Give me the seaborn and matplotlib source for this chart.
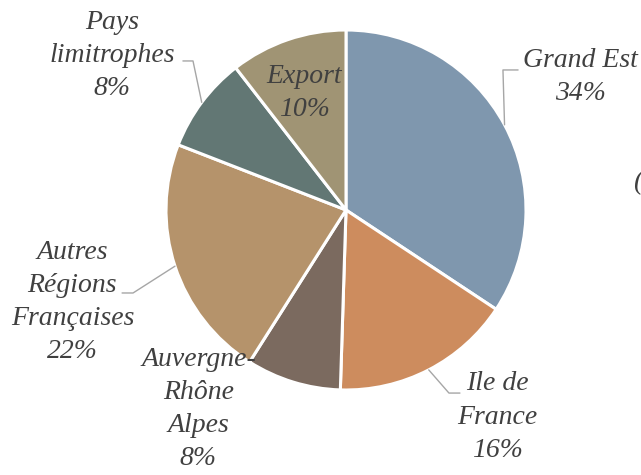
"""
Répartition géographique - camembert
"""

import numpy as np
import matplotlib.pyplot as plt
import seaborn as sns

sns.set_theme(style="white")
plt.rcParams["font.family"] = ["Liberation Serif", "DejaVu Serif"]

# -- Data --------------------------------------------------------------------
regions = ["Grand Est", "Ile de\nFrance", "Auvergne-\nRhône\nAlpes",
           "Autres\nRégions\nFrançaises", "Pays\nlimitrophes", "Export"]
shares = [34.3, 16.2, 8.5, 21.9, 8.6, 10.5]
pct_labels = ["34%", "16%", "8%", "22%", "8%", "10%"]

COLORS = ["#7f97ae", "#cd8c5e", "#7b6a5f", "#b5936b", "#627774", "#a09474"]
TEXT_COLOR = "#404040"
LINE_COLOR = "#a6a6a6"

# label centres (pie radius units) and leader line elbows
LABEL_POS = [(1.30, 0.74), (0.84, -1.15), (-0.82, -1.105),
             (-1.52, -0.51), (-1.30, 0.86), (-0.23, 0.65)]
LEADERS = {
    0: [(0.872, 0.778), (0.956, 0.778)],
    1: [(0.572, -1.017), (0.633, -1.017)],
    3: [(-1.183, -0.461), (-1.244, -0.461)],
    4: [(-0.85, 0.828), (-0.906, 0.828)],
}

fig = plt.figure(figsize=(6.41, 4.75), dpi=100)
ax = fig.add_axes([166 / 641, 1 - 390 / 475, 360 / 641, 360 / 475])

wedges, _ = ax.pie(shares, colors=COLORS, startangle=90, counterclock=False,
                   radius=1.0,
                   wedgeprops={"edgecolor": "white", "linewidth": 2.2})
ax.set_xlim(-1, 1)
ax.set_ylim(-1, 1)
ax.set_aspect("equal")
ax.axis("off")

for i, (w, name, pct) in enumerate(zip(wedges, regions, pct_labels)):
    x, y = LABEL_POS[i]
    ax.text(x, y, f"{name}\n{pct}", ha="center", va="center",
            fontsize=20, style="italic", color=TEXT_COLOR,
            linespacing=1.43, clip_on=False)
    if i in LEADERS:
        mid = np.deg2rad((w.theta1 + w.theta2) / 2)
        pts = [(np.cos(mid), np.sin(mid))] + LEADERS[i]
        xs, ys = zip(*pts)
        ax.plot(xs, ys, color=LINE_COLOR, linewidth=1.0, clip_on=False)

fig.text(1 - 8 / 641, 1 - 183 / 475, "(", fontsize=20, style="italic",
         color=TEXT_COLOR, ha="left", va="center")

fig.savefig("out.png", dpi=100, facecolor="white")
plt.close()
